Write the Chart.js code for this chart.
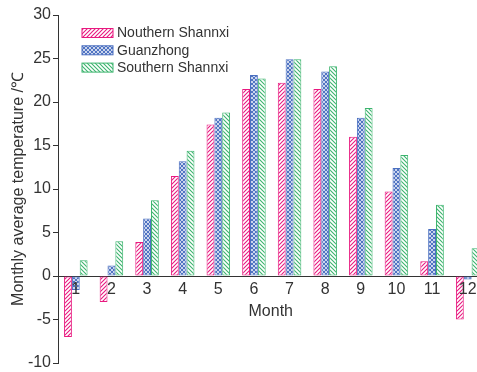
<!DOCTYPE html>
<html>
<head>
<meta charset="utf-8">
<script src="https://cdn.jsdelivr.net/npm/chart.js@4.4.1/dist/chart.umd.min.js"></script>
<style>
  html, body { margin: 0; padding: 0; background: #fff; overflow: hidden; }
  #wrap { width: 477px; height: 372px; overflow: hidden; }
</style>
</head>
<body>
<div id="wrap"><canvas id="chart" width="490" height="372"></canvas></div>
<script>
// datos
const meses = ["1", "2", "3", "4", "5", "6", "7", "8", "9", "10", "11", "12"];
const norte = [-7.0, -3.0, 3.9, 11.5, 17.4, 21.5, 22.2, 21.5, 16.0, 9.7, 1.7, -5.0];
const guanzhong = [-1.6, 1.2, 6.6, 13.2, 18.2, 23.1, 24.9, 23.5, 18.2, 12.4, 5.4, -0.4];
const sur = [1.8, 4.0, 8.7, 14.4, 18.8, 22.7, 24.9, 24.1, 19.3, 13.9, 8.2, 3.2];
const nombres = ["Nouthern Shannxi", "Guanzhong", "Southern Shannxi"];
const yTicks = [-10, -5, 0, 5, 10, 15, 20, 25, 30];

const rosa = "#e8197f";
const azul = "#4a6fc0";
const verde = "#3cb46e";
const texto = "#333333";
const familia = "'Liberation Sans', Arial, sans-serif";

// tramas de las barras
function crearTrama(color, tipo) {
  const s = 4;
  const c = document.createElement("canvas");
  c.width = s;
  c.height = s;
  const g = c.getContext("2d");
  g.fillStyle = "#fff";
  g.fillRect(0, 0, s, s);
  g.strokeStyle = color;
  g.lineWidth = 1.1;
  const slash = () => {
    g.beginPath();
    g.moveTo(-1, s + 1); g.lineTo(s + 1, -1);
    g.moveTo(-1, 1); g.lineTo(1, -1);
    g.moveTo(s - 1, s + 1); g.lineTo(s + 1, s - 1);
    g.stroke();
  };
  const back = () => {
    g.beginPath();
    g.moveTo(-1, -1); g.lineTo(s + 1, s + 1);
    g.moveTo(s - 1, -1); g.lineTo(s + 1, 1);
    g.moveTo(-1, s - 1); g.lineTo(1, s + 1);
    g.stroke();
  };
  if (tipo === "slash") slash();
  if (tipo === "back") back();
  if (tipo === "cross") { slash(); back(); }
  return g.createPattern(c, "repeat");
}

const tramas = [crearTrama(rosa, "slash"), crearTrama(azul, "cross"), crearTrama(verde, "back")];
const colores = [rosa, azul, verde];

const leyenda = {
  id: "leyenda",
  afterDraw(chart) {
    const ctx = chart.ctx;
    ctx.save();
    ctx.font = "14px " + familia;
    ctx.textBaseline = "middle";
    nombres.forEach((n, i) => {
      const y = 28.5 + i * 17.3;
      ctx.fillStyle = tramas[i];
      ctx.fillRect(82, y, 31, 9);
      ctx.strokeStyle = colores[i];
      ctx.lineWidth = 1;
      ctx.strokeRect(82, y, 31, 9);
      ctx.fillStyle = texto;
      ctx.fillText(n, 117, y + 5);
    });
    ctx.restore();
  }
};

// etiquetas del eje x bajo la linea del cero
const etiquetasX = {
  id: "etiquetasX",
  afterDatasetsDraw(chart) {
    const ctx = chart.ctx;
    const x = chart.scales.x;
    const y0 = chart.scales.y.getPixelForValue(0);
    ctx.save();
    ctx.font = "16px " + familia;
    ctx.fillStyle = texto;
    ctx.textAlign = "center";
    ctx.textBaseline = "middle";
    meses.forEach((m, i) => {
      ctx.fillText(m, x.getPixelForValue(i), y0 + 14);
    });
    ctx.fillText("Month", (chart.chartArea.left + chart.chartArea.right) / 2 - 1, y0 + 36);
    ctx.restore();
  }
};

const fuente = { family: familia, size: 16 };

new Chart(document.getElementById("chart"), {
  type: "bar",
  data: {
    labels: meses,
    datasets: [norte, guanzhong, sur].map((d, i) => ({
      label: nombres[i],
      data: d,
      backgroundColor: tramas[i],
      borderColor: colores[i],
      borderWidth: 1,
      borderSkipped: false,
      barPercentage: 1,
      categoryPercentage: 0.66,
    })),
  },
  options: {
    responsive: false,
    animation: false,
    layout: { padding: { left: 0, right: 4.5, top: 15, bottom: 9 } },
    plugins: { legend: { display: false }, tooltip: { enabled: false } },
    scales: {
      x: {
        position: { y: 0 },
        z: 1,
        afterFit(scale) {
          scale.height = 0;
          scale.paddingTop = 0; scale.paddingBottom = 0;
          scale.paddingLeft = 0; scale.paddingRight = 0;
        },
        grid: { display: false, drawTicks: false },
        border: { display: true, color: texto, width: 1 },
        ticks: { display: false },
      },
      y: {
        min: -10,
        max: 30,
        afterFit(scale) {
          scale.width = 58;
          scale.paddingTop = 0; scale.paddingBottom = 0;
        },
        afterBuildTicks(scale) { scale.ticks = yTicks.map(v => ({ value: v })); },
        grid: { display: true, drawOnChartArea: false, drawTicks: true, tickLength: 5, tickColor: texto },
        border: { display: true, color: texto, width: 1 },
        ticks: { color: texto, font: fuente, padding: 2 },
        title: { display: true, text: "Monthly average temperature /℃", color: texto, font: fuente, padding: { top: 9, bottom: 0 } },
      },
    },
  },
  plugins: [leyenda, etiquetasX],
});
</script>
</body>
</html>
